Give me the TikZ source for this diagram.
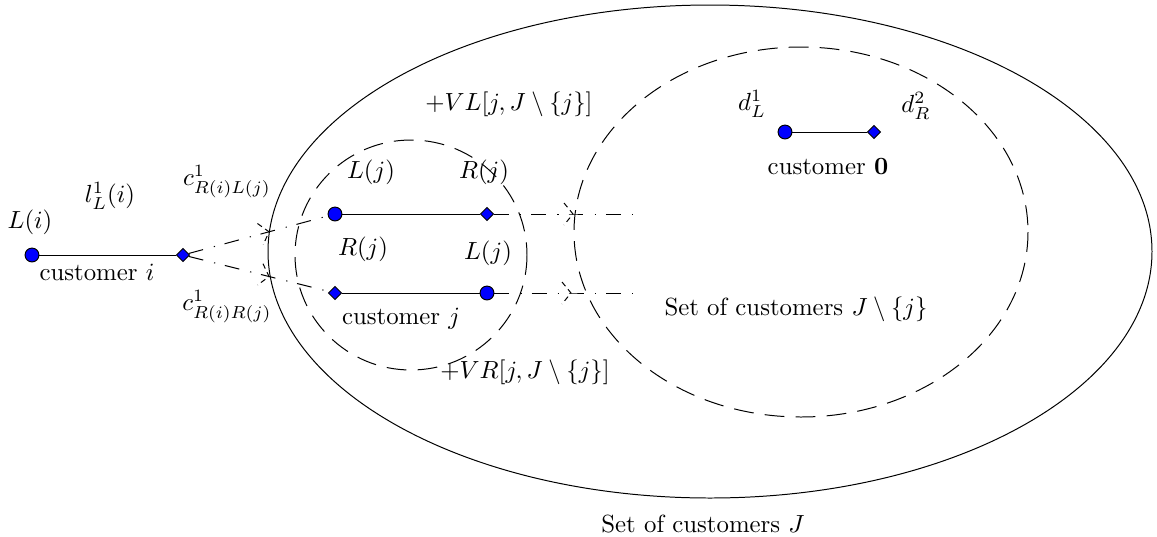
\documentclass[tikz,border=0pt]{standalone}
\usetikzlibrary{shapes.geometric,calc}
\begin{document}
\begin{tikzpicture}[x=0.4032pt,y=-0.4032pt,
  endL/.style={circle,draw,fill=blue,inner sep=0pt,minimum size=5.6pt},
  endR/.style={diamond,draw,fill=blue,inner sep=0pt,minimum size=5.4pt},
  lbl/.style={inner sep=0pt},
  ring/.style={dash pattern=on 8pt off 4.5pt},
  link/.style={dash pattern=on 6pt off 4.5pt on 0.5pt off 4pt},
  barb/.style={dash pattern=on 2.2pt off 1.6pt},
]
\useasboundingbox (0,0) rectangle (1157,536);
% outer set J
\draw (710,251.5) ellipse [x radius=442, y radius=246.5];
% set J \ {j}
\draw[ring] (801,232) ellipse [x radius=227, y radius=185];
% customer j circle
\draw[ring] (411,255) ellipse [x radius=116, y radius=115];

% customer i
\node[endL] (iL) at (32,255) {};
\node[endR] (iR) at (183,255) {};
\draw (iL) -- (iR);
% customer j
\node[endL] (jL) at (335,214) {};
\node[endR] (jR) at (487,214) {};
\draw (jL) -- (jR);
\node[endR] (jR2) at (335,293) {};
\node[endL] (jL2) at (487,293) {};
\draw (jR2) -- (jL2);
% customer 0
\node[endL] (oL) at (785,132) {};
\node[endR] (oR) at (874,132) {};
\draw (oL) -- (oR);

% dash-dot connectors
\coordinate (x1) at ($(iR)!0.566!(jL)$);
\coordinate (x2) at ($(iR)!0.566!(jR2)$);
\coordinate (x3) at (573,214);
\coordinate (e3) at (640,214);
\coordinate (x4) at (571,293);
\coordinate (e4) at (638,293);
\draw[link] (iR) -- (x1) -- (jL);
\draw[link] (iR) -- (x2) -- (jR2);
\draw[link] (jR) -- (x3) -- (e3);
\draw[link] (jL2) -- (x4) -- (e4);
% broken arrow barbs at the crossings
\foreach \s/\t in {iR/x1, iR/x2, jR/x3, jL2/x4}{
  \path let \p1=($(\t)-(\s)$), \n1={atan2(\y1,\x1)} in
    [draw,barb,shift={(\t)},rotate=\n1] (-9,-11) -- (0,0) -- (-9,11);
}

% labels
\node[lbl] (tLi) at (30,222) {$L(i)$};
\node[lbl] (tl) at (110,196) {$l_L^1(i)$};
\node[lbl] (tci) at (97,272) {customer $i$};
\node[lbl] (tc1) at (227,182) {$c^1_{R(i)L(j)}$};
\node[lbl] (tc2) at (227,307) {$c^1_{R(i)R(j)}$};
\node[lbl] (tLj) at (371,172) {$L(j)$};
\node[lbl] (tRj) at (484,172) {$R(j)$};
\node[lbl] (tRj2) at (363,249) {$R(j)$};
\node[lbl] (tLj2) at (488,253) {$L(j)$};
\node[lbl] (tcj) at (401,319) {customer $j$};
\node[lbl] (tVL) at (509,104) {$+VL[j,J\setminus\{j\}]$};
\node[lbl] (tVR) at (525,372) {$+VR[j,J\setminus\{j\}]$};
\node[lbl] (tdL) at (752,104) {$d_L^1$};
\node[lbl] (tdR) at (916,106) {$d_R^2$};
\node[lbl] (tc0) at (828,167) {customer $\mathbf{0}$};
\node[lbl] (tJj) at (796,309) {Set of customers $J\setminus\{j\}$};
\node[lbl] (tJ) at (703,524) {Set of customers $J$};
\end{tikzpicture}
\end{document}
